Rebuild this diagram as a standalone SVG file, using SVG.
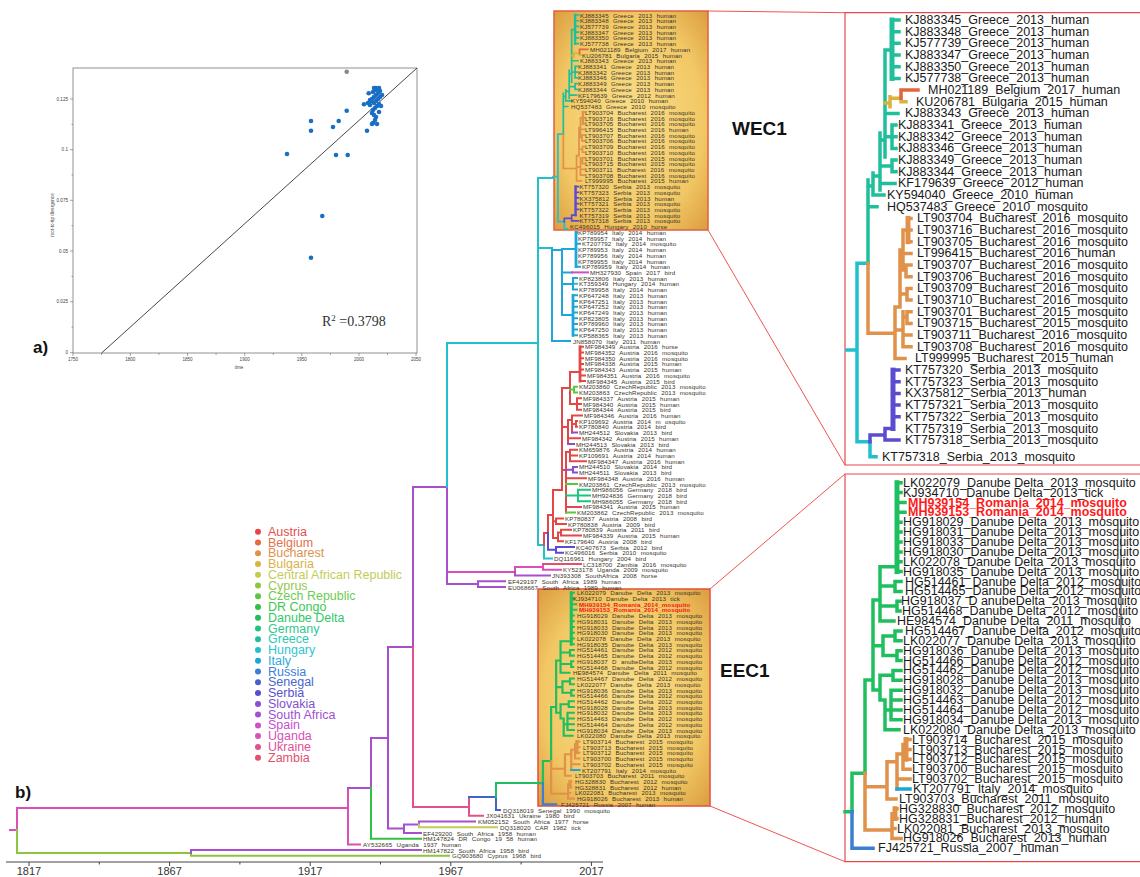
<svg xmlns="http://www.w3.org/2000/svg" width="1140" height="877" viewBox="0 0 1140 877">
<defs>
<style>
text{font-family:"Liberation Sans",Arial,sans-serif}
.t{font-size:6.2px;fill:#3a3428;letter-spacing:.1px;word-spacing:2.5px;dominant-baseline:central}
.tr{fill:#f01818;font-weight:bold;word-spacing:0}
.r{font-size:12.5px;fill:#1a1a1a;dominant-baseline:central}
.rr{fill:#ff1a1a;font-weight:bold}
.lg{font-size:12.5px;dominant-baseline:central}
.ax{font-size:4.6px;fill:#444;dominant-baseline:central}
.tk{fill:none;stroke:#666;stroke-width:.6}
.b{fill:none;stroke-width:2;stroke-linecap:square}
.w{fill:none;stroke-width:3.5;stroke-linecap:square}
.k{stroke-width:5}
.k2{stroke-width:2.8}
.cn{fill:none;stroke:#ee5555;stroke-width:1}
.gr{stroke:#1fbf9c}.bu{stroke:#e0914a}.be{stroke:#e2663c}.bg{stroke:#d8b43e}
.se{stroke:#5a4bd0}.hu{stroke:#22c0cc}.it{stroke:#1ea6d8}.sp{stroke:#cc4fd0}
.au{stroke:#e34848}.cz{stroke:#5cc63c}.sk{stroke:#8a4fd0}.ge{stroke:#1fc47e}
.za{stroke:#e2506e}.ug{stroke:#dc4fb6}.sa{stroke:#a64fcf}.dd{stroke:#1fbf5f}
.ru{stroke:#3a7fd0}.sn{stroke:#4461cc}.uk{stroke:#e2508f}.car{stroke:#c2cc55}
.cy{stroke:#8cc63f}.drc{stroke:#33c144}
</style>
<radialGradient id="gold" cx="50%" cy="50%" r="72%">
<stop offset="0" stop-color="#f9df8c"/>
<stop offset="0.65" stop-color="#f2c865"/>
<stop offset="1" stop-color="#d99a3e"/>
</radialGradient>
</defs>
<rect width="1140" height="877" fill="#fff"/>

<!-- panel a -->
<g id="panel-a">
<rect x="73" y="68" width="344" height="285" fill="#fff" stroke="#777" stroke-width="0.8"/>
<path class="tk" d="M73 99H70M73 149.7H70M73 200.3H70M73 251H70M73 301.7H70M73 352.7H70M73 124.4H71.5M73 175H71.5M73 225.7H71.5M73 276.4H71.5M73 327.2H71.5M73 353V356M130.3 353V356M187.5 353V356M244.7 353V356M301.8 353V356M359 353V356M416 353V356M101.6 353V355M158.9 353V355M216.1 353V355M273.3 353V355M330.4 353V355M387.5 353V355"/>
<text class="ax" x="68" y="99" text-anchor="end">0.125</text>
<text class="ax" x="68" y="149.7" text-anchor="end">0.1</text>
<text class="ax" x="68" y="200.3" text-anchor="end">0.075</text>
<text class="ax" x="68" y="251" text-anchor="end">0.05</text>
<text class="ax" x="68" y="301.7" text-anchor="end">0.025</text>
<text class="ax" x="68" y="352.7" text-anchor="end">0</text>
<text class="ax" x="73" y="359.5" text-anchor="middle">1750</text>
<text class="ax" x="130.3" y="359.5" text-anchor="middle">1800</text>
<text class="ax" x="187.5" y="359.5" text-anchor="middle">1850</text>
<text class="ax" x="244.7" y="359.5" text-anchor="middle">1900</text>
<text class="ax" x="301.8" y="359.5" text-anchor="middle">1950</text>
<text class="ax" x="359" y="359.5" text-anchor="middle">2000</text>
<text class="ax" x="416" y="359.5" text-anchor="middle">2050</text>
<text class="ax" x="239" y="367.5" text-anchor="middle">time</text>
<text class="ax" x="52" y="215" text-anchor="middle" transform="rotate(-90 52 215)">root-to-tip divergence</text>
<path d="M101.6 353L417 68" fill="none" stroke="#333" stroke-width="0.9"/>
<g fill="#1a6fc4">
<circle cx="287" cy="154" r="2.3"/><circle cx="311" cy="121" r="2.3"/><circle cx="311" cy="130.7" r="2.3"/>
<circle cx="333" cy="127" r="2.3"/><circle cx="338.7" cy="121" r="2.3"/><circle cx="336" cy="155" r="2.3"/>
<circle cx="347.7" cy="155" r="2.3"/><circle cx="346.7" cy="110.7" r="2.3"/><circle cx="322.3" cy="216" r="2.3"/>
<circle cx="311" cy="257.7" r="2.3"/><circle cx="367" cy="130.7" r="2.3"/><circle cx="364" cy="104.3" r="2.3"/>
<circle cx="368.7" cy="93.3" r="2.3"/><circle cx="370" cy="100" r="2.3"/><circle cx="372" cy="99" r="2.3"/>
<circle cx="374" cy="97" r="2.3"/><circle cx="376" cy="95" r="2.3"/><circle cx="378" cy="93" r="2.3"/>
<circle cx="380" cy="91" r="2.3"/><circle cx="377" cy="89" r="2.3"/><circle cx="375" cy="90" r="2.3"/>
<circle cx="373" cy="92" r="2.3"/><circle cx="371" cy="101" r="2.3"/><circle cx="374" cy="103" r="2.3"/>
<circle cx="376" cy="101" r="2.3"/><circle cx="378" cy="99" r="2.3"/><circle cx="380" cy="97" r="2.3"/>
<circle cx="382" cy="95" r="2.3"/><circle cx="379" cy="104" r="2.3"/><circle cx="377" cy="106" r="2.3"/>
<circle cx="375" cy="108" r="2.3"/><circle cx="373" cy="110" r="2.3"/><circle cx="372" cy="113" r="2.3"/>
<circle cx="374" cy="115" r="2.3"/><circle cx="376" cy="117" r="2.3"/><circle cx="375" cy="120" r="2.3"/>
<circle cx="373" cy="123" r="2.3"/><circle cx="377" cy="124" r="2.3"/><circle cx="379" cy="112" r="2.3"/>
<circle cx="381" cy="106" r="2.3"/><circle cx="372" cy="124" r="2.3"/><circle cx="370" cy="105" r="2.3"/>
<circle cx="368" cy="103" r="2.3"/><circle cx="376" cy="88" r="2.3"/><circle cx="374" cy="88" r="2.3"/><circle cx="379" cy="88" r="2.3"/>
</g>
<circle cx="346.7" cy="71.7" r="2.3" fill="#888"/>
<text x="322" y="326" font-size="14" fill="#333" style="font-family:'Liberation Serif',serif">R<tspan font-size="9" dy="-5">2</tspan><tspan dy="5"> =0.3798</tspan></text>
<text x="33" y="353" font-size="17" font-weight="bold" fill="#111">a)</text>
</g>

<!-- legend -->
<g id="legend">
<circle cx="258" cy="531.7" r="3" fill="#e34848"/><text class="lg" x="268" y="531.7" fill="#e35050">Austria</text>
<circle cx="258" cy="542.5" r="3" fill="#e6683c"/><text class="lg" x="268" y="542.5" fill="#e6704a">Belgium</text>
<circle cx="258" cy="553.2" r="3" fill="#e0914a"/><text class="lg" x="268" y="553.2" fill="#e0914e">Bucharest</text>
<circle cx="258" cy="564" r="3" fill="#d8b43e"/><text class="lg" x="268" y="564" fill="#d8b24a">Bulgaria</text>
<circle cx="258" cy="574.7" r="3" fill="#c2cc55"/><text class="lg" x="268" y="574.7" fill="#c4cc5a">Central African Republic</text>
<circle cx="258" cy="585.5" r="3" fill="#8cc63f"/><text class="lg" x="268" y="585.5" fill="#94c850">Cyprus</text>
<circle cx="258" cy="596.3" r="3" fill="#5cc63c"/><text class="lg" x="268" y="596.3" fill="#6ccc50">Czech Republic</text>
<circle cx="258" cy="607" r="3" fill="#33c144"/><text class="lg" x="268" y="607" fill="#3cc850">DR Congo</text>
<circle cx="258" cy="617.8" r="3" fill="#1fbf5f"/><text class="lg" x="268" y="617.8" fill="#30c868">Danube Delta</text>
<circle cx="258" cy="628.5" r="3" fill="#1fc47e"/><text class="lg" x="268" y="628.5" fill="#30c890">Germany</text>
<circle cx="258" cy="639.3" r="3" fill="#1fbf9c"/><text class="lg" x="268" y="639.3" fill="#30c8b0">Greece</text>
<circle cx="258" cy="650.1" r="3" fill="#22c0cc"/><text class="lg" x="268" y="650.1" fill="#30c4d0">Hungary</text>
<circle cx="258" cy="660.8" r="3" fill="#1ea6d8"/><text class="lg" x="268" y="660.8" fill="#30a8e0">Italy</text>
<circle cx="258" cy="671.6" r="3" fill="#3a7fd0"/><text class="lg" x="268" y="671.6" fill="#3c80d8">Russia</text>
<circle cx="258" cy="682.3" r="3" fill="#4461cc"/><text class="lg" x="268" y="682.3" fill="#4868d0">Senegal</text>
<circle cx="258" cy="693.1" r="3" fill="#5a4bd0"/><text class="lg" x="268" y="693.1" fill="#5850d0">Serbia</text>
<circle cx="258" cy="703.9" r="3" fill="#8a4fd0"/><text class="lg" x="268" y="703.9" fill="#8050d0">Slovakia</text>
<circle cx="258" cy="714.6" r="3" fill="#a64fcf"/><text class="lg" x="268" y="714.6" fill="#a050d0">South Africa</text>
<circle cx="258" cy="725.4" r="3" fill="#cc4fd0"/><text class="lg" x="268" y="725.4" fill="#c850d0">Spain</text>
<circle cx="258" cy="736.1" r="3" fill="#dc4fb6"/><text class="lg" x="268" y="736.1" fill="#d850b8">Uganda</text>
<circle cx="258" cy="746.9" r="3" fill="#e2508f"/><text class="lg" x="268" y="746.9" fill="#e05098">Ukraine</text>
<circle cx="258" cy="757.7" r="3" fill="#e2506e"/><text class="lg" x="268" y="757.7" fill="#e05070">Zambia</text>
</g>

<!-- boxes and zoom connectors -->
<g id="boxes">
<rect x="554" y="11" width="154" height="219" fill="url(#gold)" stroke="#e2603c" stroke-width="1.5"/>
<rect x="538" y="589" width="172" height="217" fill="url(#gold)" stroke="#e2503c" stroke-width="1.5"/>
<path d="M1141 12.7H845V465H1141" fill="#fff" stroke="#e84848" stroke-width="1.2"/>
<path d="M1141 474H845V861.7H1141" fill="#fff" stroke="#e84848" stroke-width="1.2"/>
</g>
<g id="zoom-connectors">
<path class="cn" d="M708 11L845 12.7M708 230L845 465M710 589L845 474M710 806L845 861.7"/>
</g>

<!-- main tree connectors -->
<g id="main-tree">
<path class="b ug" d="M10 830H17M17 808V830M17 808H348M348 788V844.4M348 844.4H360M447 572H515M515 566.9V572M515 566.9H543M543 564.1V569.8M543 569.8H561"/>
<path class="b cy" d="M17 830V853M17 853H191M191 853V855.8M191 855.8H449"/>
<path class="b sa" d="M191 850.1V853M191 850.1H421M348 788H371M371 738V788M371 738H388M388 647V828.5M388 828.5H404M404 824.4V833M404 833H421M404 824.4H419M419 821.5V824.4M419 821.5H475M388 647H413M413 487V647M413 487H447M447 487V584.1M447 584.1H478M478 581.3V587M478 581.3H505M478 587H505M515 572V575.6M515 575.6H550"/>
<path class="b drc" d="M371 788V838.7M371 838.7H421"/>
<path class="b car" d="M419 824.4V827.2M419 827.2H497"/>
<path class="b uk" d="M413 647V807M413 807H469M469 797V815.8M469 815.8H483"/>
<path class="b sn" d="M469 797H496M496 797V810.1M496 810.1H500"/>
<path class="b dd" d="M496 783V797M496 783H539"/>
<path class="b za" d="M543 564.1H581"/>
<path class="b hu" d="M447 343V487M447 343H538M538 178V545M538 178H553M538 248H552M538 545H544M544 545V558.4M544 558.4H552M573 283.8H577"/>
<path class="b it" d="M552 248V341M552 341H570M552 250H562M562 249V315M562 249H576M576 232.4H577M576 243.8H580M576 266.7H580M562 272.4H572M562 284H573M573 278.1V289.6M573 278.1H577M573 289.6H577M562 315H573M573 295.3H577M573 301H577M573 306.7H577M573 312.4H577M573 318.2H577M573 323.9H577M573 329.6H577M573 335.3H577"/>
<path class="b it k2" d="M576 232.4V266.7M573 295.3V335.3"/>
<path class="b sp" d="M572 272.4H588"/>
<path class="b au" d="M544 533V545M544 533H548M548 515V533M548 515H553M553 490V538M553 538H558M558 532.6V541.2M558 541.2H563M558 532.6H561M561 529.8V535.5M561 529.8H571M561 535.5H581M553 521.3H556M556 518.4V524.1M556 518.4H563M556 524.1H566M553 490H562M562 388V490M562 388H570M570 372V404M570 372H580M580 346.8H583M580 352.5H583M580 358.2H583M580 363.9H583M580 369.6H583M580 375.4H585M580 381.1H585M570 404H577M577 398.2V409.7M577 398.2H581M577 404H581M577 409.7H581M562 427H568M568 420V444M568 420H572M572 415.4V432.6M572 415.4H582M572 424H576M576 421.1V426.8M576 421.1H577M576 426.8H577M568 438.3H580M562 470H566M566 452V512.6M566 452H570M570 449.7V461.2M570 449.7H577M570 455.4H577M570 461.2H586M566 478.3H586M566 506.9H581"/>
<path class="b au k2" d="M580 346.8V381.1"/>
<path class="b cz" d="M570 389.6H574M574 386.8V392.5M574 386.8H577M574 392.5H577M566 484H577M566 512.6H575"/>
<path class="b sk" d="M572 432.6H577M568 444H574M566 469.7H573M573 466.9V472.6M573 466.9H577M573 472.6H577"/>
<path class="b ge" d="M566 495.5H578M578 489.8V501.2M578 489.8H590M578 495.5H590M578 501.2H590"/>
<path class="b se" d="M548 533V549.8M548 549.8H556M556 547V552.7M556 547H574M556 552.7H563"/>
</g>

<!-- WEC1 enlarged tree (right) -->
<g id="wecTree">
<path class="w hu" d="M847 350H857M857 263.3V441.7M857 441.7H870M870 441.7V456.7M870 456.7H876M857 263.3H868"/>
<path class="w se" d="M870 435V441.7M870 435H885M885 428.5V440.1M885 428.5H893M885 440.1H899M893 370.1H899M893 381.8H899M893 393.4H899M893 405.1H899M893 416.8H899"/>
<path class="w se k" d="M893 370.1V428.5"/>
<path class="w gr" d="M868 180V263.3M868 206.7H877M868 186H873M873 173V195.1M873 195.1H884M873 176H880M880 133V190M880 183.4H895M880 166H892M892 160V171.7M892 160H896M892 171.7H896M880 140H885M885 50V157M885 136.7H892M892 125V148.4M892 125H896M892 136.7H896M892 148.4H896M885 113.4H898M885 50H892M892 20H899M892 31.7H899M892 43.3H899M892 55H899M892 66.7H899M892 78.4H899"/>
<path class="w gr k" d="M892 20V78.4"/>
<path class="w bg" d="M885 103H890M890 96.7V106.7M890 98.3H901M901 98.3V101.7M901 101.7H906"/>
<path class="w be" d="M901 90V98.3M901 90H918"/>
<path class="w bu" d="M868 263.3V333.3M868 333.3H895M895 307V358.4M895 358.4H905M895 307H900M900 250V307M900 250H903M903 230V270M903 230H908M908 218.4H911M908 230.1H911M908 241.7H911M903 253.4H911M903 270H906M906 265.1V276.7M906 265.1H911M906 276.7H911M900 294H907M907 288.4V300.1M907 288.4H911M907 300.1H911M895 330H903M903 311.8V346.8M903 317H907M907 311.8V323.4M907 311.8H911M907 323.4H911M903 335.1H911M903 346.8H911"/>
<path class="w bu k" d="M908 218.4V241.7"/>
</g>

<!-- EEC1 enlarged tree (right) -->
<g id="eecTree">
<path class="w dd" d="M845 811.7H852M852 773.3V811.7M852 773.3H865M865 680V773.3M865 680H873M873 600V690M873 600H880M880 566.7V621M880 566.7H897M897 482.7H901M897 492.6H901M897 502.5H905M897 512.3H905M897 522.2H901M897 532.1H901M897 542H901M897 551.9H901M897 561.7H901M897 571.6H901M880 586H895M895 581.5V591.4M895 581.5H901M895 591.4H901M880 606H897M897 601.3V611.1M897 601.3H900M897 611.1H900M880 621H894M873 645.8H883M883 635.9V655.6M883 635.9H895M895 630.9V640.8M895 630.9H901M895 640.8H901M883 655.6H897M897 650.7V660.5M897 650.7H901M897 660.5H901M873 690H880M880 675.3V700M880 675.3H893M893 670.4V680.3M893 670.4H901M893 680.3H901M880 700H885M885 700V729.7M885 729.7H899M885 710H891M891 690.2V719.8M891 690.2H901M891 700.1H901M891 709.9H901M891 719.8H901"/>
<path class="w dd k" d="M897 482.7V571.6"/>
<path class="w bu" d="M865 773.3V830M865 786.7H887M887 761.7V798.9M887 798.9H896M887 761.7H897M897 754V789M897 779.1H910M897 754H903M903 744.5V769.2M903 769.2H910M903 744.5H906M906 739.6H910M906 749.5H910M906 759.3H910M865 830H892M892 813.7V838.4M892 838.4H901M892 828.5H895M892 813.7H895M895 808.7H897M895 818.6H897"/>
<path class="w bu k" d="M906 739.6V759.3M895 808.7V818.6"/>
<path class="w it" d="M897 789H910"/>
<path class="w ru" d="M852 811.7V848.3M852 848.3H873"/>
</g>

<!-- reduced copies inside main boxes -->
<use href="#wecTree" transform="matrix(0.49 0 0 0.49 138 5.2)"/>
<use href="#eecTree" transform="matrix(0.63 0 0 0.579 6.15 313.2)"/>

<path d="M1121 520V705" stroke="#333" stroke-width="1"/>

<!-- main tree tip labels -->
<g id="main-labels">
<text class="t" x="580" y="15">KJ883345 Greece 2013 human</text>
<text class="t" x="580" y="20.7">KJ883348 Greece 2013 human</text>
<text class="t" x="580" y="26.4">KJ577739 Greece 2013 human</text>
<text class="t" x="580" y="32.2">KJ883347 Greece 2013 human</text>
<text class="t" x="580" y="37.9">KJ883350 Greece 2013 human</text>
<text class="t" x="580" y="43.6">KJ577738 Greece 2013 human</text>
<text class="t" x="590" y="49.3">MH021189 Belgium 2017 human</text>
<text class="t" x="582" y="55">KU206781 Bulgaria 2015 human</text>
<text class="t" x="580" y="60.8">KJ883343 Greece 2013 human</text>
<text class="t" x="578" y="66.5">KJ883341 Greece 2013 human</text>
<text class="t" x="578" y="72.2">KJ883342 Greece 2013 human</text>
<text class="t" x="578" y="77.9">KJ883346 Greece 2013 human</text>
<text class="t" x="578" y="83.6">KJ883349 Greece 2013 human</text>
<text class="t" x="578" y="89.4">KJ883344 Greece 2013 human</text>
<text class="t" x="578" y="95.1">KF179639 Greece 2012 human</text>
<text class="t" x="571" y="100.8">KY594040 Greece 2010 human</text>
<text class="t" x="571" y="106.5">HQ537483 Greece 2010 mosquito</text>
<text class="t" x="585" y="112.2">LT903704 Bucharest 2016 mosquito</text>
<text class="t" x="585" y="118">LT903716 Bucharest 2016 mosquito</text>
<text class="t" x="585" y="123.7">LT903705 Bucharest 2016 mosquito</text>
<text class="t" x="585" y="129.4">LT996415 Bucharest 2016 human</text>
<text class="t" x="585" y="135.1">LT903707 Bucharest 2016 mosquito</text>
<text class="t" x="585" y="140.8">LT903706 Bucharest 2016 mosquito</text>
<text class="t" x="585" y="146.6">LT903709 Bucharest 2016 mosquito</text>
<text class="t" x="585" y="152.3">LT903710 Bucharest 2016 mosquito</text>
<text class="t" x="585" y="158">LT903701 Bucharest 2015 mosquito</text>
<text class="t" x="585" y="163.7">LT903715 Bucharest 2015 mosquito</text>
<text class="t" x="585" y="169.4">LT903711 Bucharest 2016 mosquito</text>
<text class="t" x="585" y="175.2">LT903708 Bucharest 2016 mosquito</text>
<text class="t" x="585" y="180.9">LT999995 Bucharest 2015 human</text>
<text class="t" x="579.5" y="186.6">KT757320 Serbia 2013 mosquito</text>
<text class="t" x="579.5" y="192.3">KT757323 Serbia 2013 mosquito</text>
<text class="t" x="579.5" y="198">KX375812 Serbia 2013 human</text>
<text class="t" x="579.5" y="203.8">KT757321 Serbia 2013 mosquito</text>
<text class="t" x="579.5" y="209.5">KT757322 Serbia 2013 mosquito</text>
<text class="t" x="579.5" y="215.2">KT757319 Serbia 2013 mosquito</text>
<text class="t" x="579.5" y="220.9">KT757318 Serbia 2013 mosquito</text>
<text class="t" x="570" y="226.6">KC496015 Hungary 2010 horse</text>
<text class="t" x="578" y="232.4">KP789954 Italy 2014 human</text>
<text class="t" x="578" y="238.1">KP789957 Italy 2014 human</text>
<text class="t" x="582" y="243.8">KT207792 Italy 2014 mosquito</text>
<text class="t" x="578" y="249.5">KP789953 Italy 2014 human</text>
<text class="t" x="578" y="255.2">KP789956 Italy 2014 human</text>
<text class="t" x="578" y="261">KP789955 Italy 2014 human</text>
<text class="t" x="582" y="266.7">KP789959 Italy 2014 human</text>
<text class="t" x="590" y="272.4">MH327930 Spain 2017 bird</text>
<text class="t" x="579" y="278.1">KP823806 Italy 2013 human</text>
<text class="t" x="579" y="283.8">KT359349 Hungary 2014 human</text>
<text class="t" x="579" y="289.6">KP789958 Italy 2014 human</text>
<text class="t" x="579" y="295.3">KP647248 Italy 2013 human</text>
<text class="t" x="579" y="301">KP647251 Italy 2013 human</text>
<text class="t" x="579" y="306.7">KP647252 Italy 2013 human</text>
<text class="t" x="579" y="312.4">KP647249 Italy 2013 human</text>
<text class="t" x="579" y="318.2">KP823805 Italy 2013 human</text>
<text class="t" x="579" y="323.9">KP789960 Italy 2013 human</text>
<text class="t" x="579" y="329.6">KP647250 Italy 2013 human</text>
<text class="t" x="579" y="335.3">KP588365 Italy 2013 human</text>
<text class="t" x="573" y="341">JN858070 Italy 2011 human</text>
<text class="t" x="585" y="346.8">MF984349 Austria 2016 horse</text>
<text class="t" x="585" y="352.5">MF984352 Austria 2016 mosquito</text>
<text class="t" x="585" y="358.2">MF984350 Austria 2016 mosquito</text>
<text class="t" x="585" y="363.9">MF984338 Austria 2015 human</text>
<text class="t" x="585" y="369.6">MF984343 Austria 2015 human</text>
<text class="t" x="587" y="375.4">MF984351 Austria 2016 mosquito</text>
<text class="t" x="587" y="381.1">MF984345 Austria 2015 bird</text>
<text class="t" x="579" y="386.8">KM203860 CzechRepublic 2013 mosquito</text>
<text class="t" x="579" y="392.5">KM203863 CzechRepublic 2013 mosquito</text>
<text class="t" x="583" y="398.2">MF984337 Austria 2015 human</text>
<text class="t" x="583" y="404">MF984340 Austria 2015 human</text>
<text class="t" x="583" y="409.7">MF984344 Austria 2015 bird</text>
<text class="t" x="584" y="415.4">MF984346 Austria 2016 human</text>
<text class="t" x="579" y="421.1">KP109692 Austria 2014 m osquito</text>
<text class="t" x="579" y="426.8">KP780840 Austria 2014 bird</text>
<text class="t" x="579" y="432.6">MH244512 Slovakia 2013 bird</text>
<text class="t" x="582" y="438.3">MF984342 Austria 2015 human</text>
<text class="t" x="576" y="444">MH244513 Slovakia 2013 bird</text>
<text class="t" x="579" y="449.7">KM659876 Austria 2014 human</text>
<text class="t" x="579" y="455.4">KP109691 Austria 2014 human</text>
<text class="t" x="588" y="461.2">MF984347 Austria 2016 human</text>
<text class="t" x="579" y="466.9">MH244510 Slovakia 2014 bird</text>
<text class="t" x="579" y="472.6">MH244511 Slovakia 2013 bird</text>
<text class="t" x="588" y="478.3">MF984348 Austria 2016 human</text>
<text class="t" x="579" y="484">KM203861 CzechRepublic 2013 mosquito</text>
<text class="t" x="592" y="489.8">MH986056 Germany 2018 bird</text>
<text class="t" x="592" y="495.5">MH924836 Germany 2018 bird</text>
<text class="t" x="592" y="501.2">MH986055 Germany 2018 bird</text>
<text class="t" x="583" y="506.9">MF984341 Austria 2015 human</text>
<text class="t" x="577" y="512.6">KM203862 CzechRepublic 2013 mosquito</text>
<text class="t" x="565" y="518.4">KP780837 Austria 2008 bird</text>
<text class="t" x="568" y="524.1">KP780838 Austria 2009 bird</text>
<text class="t" x="573" y="529.8">KP780839 Austria 2011 bird</text>
<text class="t" x="583" y="535.5">MF984339 Austria 2015 human</text>
<text class="t" x="565" y="541.2">KF179640 Austria 2008 bird</text>
<text class="t" x="576" y="547">KC407673 Serbia 2012 bird</text>
<text class="t" x="565" y="552.7">KC496016 Serbia 2010 mosquito</text>
<text class="t" x="554" y="558.4">DQ116961 Hungary 2004 bird</text>
<text class="t" x="583" y="564.1">LC318700 Zambia 2016 mosquito</text>
<text class="t" x="563" y="569.8">KY523178 Uganda 2009 mosquito</text>
<text class="t" x="552" y="575.6">JN393308 SouthAfrica 2008 horse</text>
<text class="t" x="508" y="581.3">EF429197 South Africa 1989 human</text>
<text class="t" x="508" y="587">EU068667 South Africa 1989 human</text>
<text class="t" x="577" y="592.7">LK022079 Danube Delta 2013 mosquito</text>
<text class="t" x="573" y="598.4">KJ934710 Danube Delta 2013 tick</text>
<text class="t tr" x="579" y="604.2">MH939154_Romania_2014_mosquito</text>
<text class="t tr" x="579" y="609.9">MH939153_Romania_2014_mosquito</text>
<text class="t" x="577" y="615.6">HG918029 Danube Delta 2013 mosquito</text>
<text class="t" x="577" y="621.3">HG918031 Danube Delta 2013 mosquito</text>
<text class="t" x="577" y="627">HG918033 Danube Delta 2013 mosquito</text>
<text class="t" x="577" y="632.8">HG918030 Danube Delta 2013 mosquito</text>
<text class="t" x="577" y="638.5">LK022078 Danube Delta 2013 mosquito</text>
<text class="t" x="577" y="644.2">HG918035 Danube Delta 2013 mosquito</text>
<text class="t" x="577" y="649.9">HG514461 Danube Delta 2012 mosquito</text>
<text class="t" x="577" y="655.6">HG514465 Danube Delta 2012 mosquito</text>
<text class="t" x="577" y="661.4">HG918037 D anubeDelta 2013 mosquito</text>
<text class="t" x="577" y="667.1">HG514468 Danube Delta 2012 mosquito</text>
<text class="t" x="573" y="672.8">HE984574 Danube Delta 2011 mosquito</text>
<text class="t" x="577" y="678.5">HG514467 Danube Delta 2012 mosquito</text>
<text class="t" x="577" y="684.2">LK022077 Danube Delta 2013 mosquito</text>
<text class="t" x="577" y="690">HG918036 Danube Delta 2013 mosquito</text>
<text class="t" x="577" y="695.7">HG514466 Danube Delta 2012 mosquito</text>
<text class="t" x="577" y="701.4">HG514462 Danube Delta 2012 mosquito</text>
<text class="t" x="577" y="707.1">HG918028 Danube Delta 2013 mosquito</text>
<text class="t" x="577" y="712.8">HG918032 Danube Delta 2013 mosquito</text>
<text class="t" x="577" y="718.6">HG514463 Danube Delta 2012 mosquito</text>
<text class="t" x="577" y="724.3">HG514464 Danube Delta 2012 mosquito</text>
<text class="t" x="577" y="730">HG918034 Danube Delta 2013 mosquito</text>
<text class="t" x="577" y="735.7">LK022080 Danube Delta 2013 mosquito</text>
<text class="t" x="583" y="741.4">LT903714 Bucharest 2015 mosquito</text>
<text class="t" x="583" y="747.2">LT903713 Bucharest 2015 mosquito</text>
<text class="t" x="583" y="752.9">LT903712 Bucharest 2015 mosquito</text>
<text class="t" x="583" y="758.6">LT903700 Bucharest 2015 mosquito</text>
<text class="t" x="583" y="764.3">LT903702 Bucharest 2015 mosquito</text>
<text class="t" x="582" y="770">KT207791 Italy 2014 mosquito</text>
<text class="t" x="575" y="775.8">LT903703 Bucharest 2011 mosquito</text>
<text class="t" x="575" y="781.5">HG328830 Bucharest 2012 mosquito</text>
<text class="t" x="575" y="787.2">HG328831 Bucharest 2012 human</text>
<text class="t" x="575" y="792.9">LK022081 Bucharest 2013 mosquito</text>
<text class="t" x="577" y="798.6">HG918026 Bucharest 2013 human</text>
<text class="t" x="561" y="804.4">FJ425721 Russia 2007 human</text>
<text class="t" x="503" y="810.1">DQ318019 Senegal 1990 mosquito</text>
<text class="t" x="486" y="815.8">JX041631 Ukraine 1980 bird</text>
<text class="t" x="478" y="821.5">KM052152 South Africa 1977 horse</text>
<text class="t" x="500" y="827.2">DQ318020 CAR 1982 tick</text>
<text class="t" x="423" y="833">EF429200 South Africa 1958 human</text>
<text class="t" x="423" y="838.7">HM147824 DR Congo 19 58 human</text>
<text class="t" x="363" y="844.4">AY532665 Uganda 1937 human</text>
<text class="t" x="423" y="850.1">HM147822 South Africa 1958 bird</text>
<text class="t" x="452" y="855.8">GQ903680 Cyprus 1968 bird</text>
</g>

<!-- right WEC1 labels -->
<g id="wec-labels">
<text class="r" x="905" y="20">KJ883345_Greece_2013_human</text>
<text class="r" x="905" y="31.7">KJ883348_Greece_2013_human</text>
<text class="r" x="905" y="43.3">KJ577739_Greece_2013_human</text>
<text class="r" x="905" y="55">KJ883347_Greece_2013_human</text>
<text class="r" x="905" y="66.7">KJ883350_Greece_2013_human</text>
<text class="r" x="905" y="78.4">KJ577738_Greece_2013_human</text>
<text class="r" x="928" y="90">MH021189_Belgium_2017_human</text>
<text class="r" x="916" y="101.7">KU206781_Bulgaria_2015_human</text>
<text class="r" x="905" y="113.4">KJ883343_Greece_2013_human</text>
<text class="r" x="898" y="125">KJ883341_Greece_2013_human</text>
<text class="r" x="898" y="136.7">KJ883342_Greece_2013_human</text>
<text class="r" x="898" y="148.4">KJ883346_Greece_2013_human</text>
<text class="r" x="898" y="160">KJ883349_Greece_2013_human</text>
<text class="r" x="898" y="171.7">KJ883344_Greece_2013_human</text>
<text class="r" x="898" y="183.4">KF179639_Greece_2012_human</text>
<text class="r" x="887" y="195.1">KY594040_Greece_2010_human</text>
<text class="r" x="887" y="206.7">HQ537483_Greece_2010_mosquito</text>
<text class="r" x="917" y="218.4">LT903704_Bucharest_2016_mosquito</text>
<text class="r" x="917" y="230.1">LT903716_Bucharest_2016_mosquito</text>
<text class="r" x="917" y="241.7">LT903705_Bucharest_2016_mosquito</text>
<text class="r" x="917" y="253.4">LT996415_Bucharest_2016_human</text>
<text class="r" x="917" y="265.1">LT903707_Bucharest_2016_mosquito</text>
<text class="r" x="917" y="276.7">LT903706_Bucharest_2016_mosquito</text>
<text class="r" x="917" y="288.4">LT903709_Bucharest_2016_mosquito</text>
<text class="r" x="917" y="300.1">LT903710_Bucharest_2016_mosquito</text>
<text class="r" x="917" y="311.8">LT903701_Bucharest_2015_mosquito</text>
<text class="r" x="917" y="323.4">LT903715_Bucharest_2015_mosquito</text>
<text class="r" x="917" y="335.1">LT903711_Bucharest_2016_mosquito</text>
<text class="r" x="917" y="346.8">LT903708_Bucharest_2016_mosquito</text>
<text class="r" x="915" y="358.4">LT999995_Bucharest_2015_human</text>
<text class="r" x="905" y="370.1">KT757320_Serbia_2013_mosquito</text>
<text class="r" x="905" y="381.8">KT757323_Serbia_2013_mosquito</text>
<text class="r" x="905" y="393.4">KX375812_Serbia_2013_human</text>
<text class="r" x="905" y="405.1">KT757321_Serbia_2013_mosquito</text>
<text class="r" x="905" y="416.8">KT757322_Serbia_2013_mosquito</text>
<text class="r" x="905" y="428.5">KT757319_Serbia_2013_mosquito</text>
<text class="r" x="905" y="440.1">KT757318_Serbia_2013_mosquito</text>
<text class="r" x="882" y="456.7">KT757318_Serbia_2013_mosquito</text>
</g>

<!-- right EEC1 labels -->
<g id="eec-labels">
<text class="r" x="903" y="482.7">LK022079_Danube Delta_2013_mosquito</text>
<text class="r" x="903" y="492.6">KJ934710_Danube Delta_2013_tick</text>
<text class="r rr" x="908" y="502.5">MH939154_Romania_2014_mosquito</text>
<text class="r rr" x="908" y="512.3">MH939153_Romania_2014_mosquito</text>
<text class="r" x="903" y="522.2">HG918029_Danube Delta_2013_mosquito</text>
<text class="r" x="903" y="532.1">HG918031_Danube Delta_2013_mosquito</text>
<text class="r" x="903" y="542">HG918033_Danube Delta_2013_mosquito</text>
<text class="r" x="903" y="551.9">HG918030_Danube Delta_2013_mosquito</text>
<text class="r" x="903" y="561.7">LK022078_Danube Delta_2013_mosquito</text>
<text class="r" x="903" y="571.6">HG918035_Danube Delta_2013_mosquito</text>
<text class="r" x="905" y="581.5">HG514461_Danube Delta_2012_mosquito</text>
<text class="r" x="905" y="591.4">HG514465_Danube Delta_2012_mosquito</text>
<text class="r" x="901" y="601.3">HG918037_D anubeDelta_2013_mosquito</text>
<text class="r" x="902" y="611.1">HG514468_Danube Delta_2012_mosquito</text>
<text class="r" x="897" y="621">HE984574_Danube Delta_2011_mosquito</text>
<text class="r" x="905" y="630.9">HG514467_Danube Delta_2012_mosquito</text>
<text class="r" x="903" y="640.8">LK022077_Danube Delta_2013_mosquito</text>
<text class="r" x="903" y="650.7">HG918036_Danube Delta_2013_mosquito</text>
<text class="r" x="903" y="660.5">HG514466_Danube Delta_2012_mosquito</text>
<text class="r" x="903" y="670.4">HG514462_Danube Delta_2012_mosquito</text>
<text class="r" x="903" y="680.3">HG918028_Danube Delta_2013_mosquito</text>
<text class="r" x="903" y="690.2">HG918032_Danube Delta_2013_mosquito</text>
<text class="r" x="903" y="700.1">HG514463_Danube Delta_2012_mosquito</text>
<text class="r" x="903" y="709.9">HG514464_Danube Delta_2012_mosquito</text>
<text class="r" x="903" y="719.8">HG918034_Danube Delta_2013_mosquito</text>
<text class="r" x="903" y="729.7">LK022080_Danube Delta_2013_mosquito</text>
<text class="r" x="912" y="739.6">LT903714_Bucharest_2015_mosquito</text>
<text class="r" x="912" y="749.5">LT903713_Bucharest_2015_mosquito</text>
<text class="r" x="912" y="759.3">LT903712_Bucharest_2015_mosquito</text>
<text class="r" x="912" y="769.2">LT903700_Bucharest_2015_mosquito</text>
<text class="r" x="912" y="779.1">LT903702_Bucharest_2015_mosquito</text>
<text class="r" x="913" y="789">KT207791_Italy_2014_mosquito</text>
<text class="r" x="899" y="798.9">LT903703_Bucharest_2011_mosquito</text>
<text class="r" x="899" y="808.7">HG328830_Bucharest_2012_mosquito</text>
<text class="r" x="899" y="818.6">HG328831_Bucharest_2012_human</text>
<text class="r" x="897" y="828.5">LK022081_Bucharest_2013_mosquito</text>
<text class="r" x="903" y="838.4">HG918026_Bucharest_2013_human</text>
<text class="r" x="878" y="848.3">FJ425721_Russia_2007_human</text>
</g>

<!-- clade tags -->
<text x="732" y="135" font-size="19" font-weight="bold" fill="#111">WEC1</text>
<text x="720" y="677" font-size="19" font-weight="bold" fill="#111">EEC1</text>

<!-- time axis -->
<g id="time-axis">
<path d="M6 862H603" stroke="#444" stroke-width="1" fill="none"/>
<path d="M29 862V866M169.6 862V866M310.2 862V866M450.8 862V866M591.4 862V866M99.3 862V864.5M239.9 862V864.5M380.5 862V864.5M521.1 862V864.5" stroke="#444" stroke-width="1" fill="none"/>
<text x="29" y="875" font-size="11" fill="#333" text-anchor="middle">1817</text>
<text x="169.6" y="875" font-size="11" fill="#333" text-anchor="middle">1867</text>
<text x="310.2" y="875" font-size="11" fill="#333" text-anchor="middle">1917</text>
<text x="450.8" y="875" font-size="11" fill="#333" text-anchor="middle">1967</text>
<text x="591.4" y="875" font-size="11" fill="#333" text-anchor="middle">2017</text>
</g>
<text x="15" y="798" font-size="17" font-weight="bold" fill="#111">b)</text>
</svg>
